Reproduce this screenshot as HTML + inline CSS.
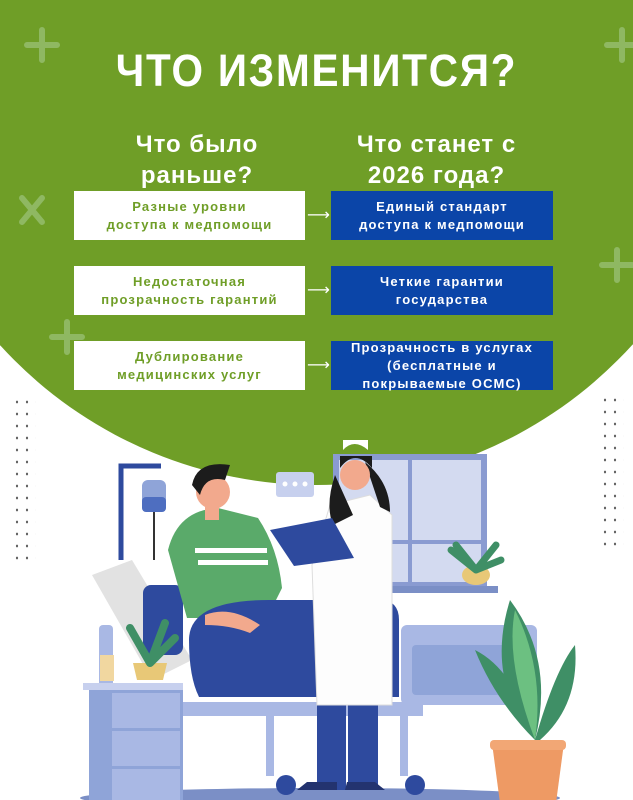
<!DOCTYPE html>
<html><head><meta charset="utf-8"><style>
body{margin:0;width:633px;height:800px;overflow:hidden;background:#fff;position:relative;font-family:"Liberation Sans","DejaVu Sans",sans-serif}
.abs{position:absolute}
.t{left:0;width:633px;top:45px;text-align:center;color:#fff;font-weight:bold;font-size:45px;letter-spacing:2px;transform:scaleX(0.9);line-height:52px}
.h{color:#fff;font-weight:bold;font-size:24px;line-height:31px;text-align:center;letter-spacing:1px}
.b{display:flex;align-items:center;justify-content:center;text-align:center;font-weight:bold;font-size:13px;line-height:18px;letter-spacing:1.2px}
.w{background:#fff;color:#6f9e27;left:74px;width:231px;height:49px}
.bl{background:#0b45a8;color:#fff;left:331px;width:222px;height:49px}
.ar{left:307px;width:22px;color:#fff;font-size:16px}
</style></head><body>
<svg class="abs" style="left:0;top:0" width="633" height="800">
<circle cx="316" cy="58" r="427" fill="#6f9e27"/>
<g stroke="#8fb862" stroke-width="6" stroke-linecap="round">
<path d="M42 30v30M27 45h30"/><path d="M622 30v30M607 45h30"/>
<path d="M22 198l20 24M42 198l-20 24"/><path d="M617 250v30M602 265h30"/>
<path d="M67 322v30M52 337h30"/></g>
<ellipse cx="320" cy="798" rx="240" ry="10" fill="#7b8fc6"/>
<rect x="333" y="454" width="154" height="134" fill="#8a9bd1"/>
<rect x="339" y="460" width="142" height="122" fill="#d3daf0"/>
<rect x="408" y="460" width="4" height="122" fill="#8a9bd1"/>
<rect x="339" y="540" width="142" height="4" fill="#8a9bd1"/>
<rect x="383" y="586" width="115" height="7" fill="#7b8fc6"/>
<ellipse cx="476" cy="575" rx="14" ry="10" fill="#e8c877"/>
<path d="M476 570l-25-20M476 570l20-25M476 570l25-10M476 570l-20-25" stroke="#3f8f66" stroke-width="7" stroke-linecap="round"/>
<path d="M121 560V466h40" stroke="#2e4a9e" stroke-width="5" fill="none"/>
<rect x="142" y="480" width="24" height="32" rx="6" fill="#8fa4d8"/>
<rect x="142" y="497" width="24" height="15" rx="4" fill="#4e6ec0"/>
<path d="M154 512v48" stroke="#333" stroke-width="2"/>
<rect x="276" y="472" width="38" height="25" rx="3" fill="#c7d0ee"/>
<g fill="#fff"><circle cx="285" cy="484" r="2.5"/><circle cx="295" cy="484" r="2.5"/><circle cx="305" cy="484" r="2.5"/></g>
<path d="M92 575l40 -15 60 100 -40 20z" fill="#e2e2e2"/>
<rect x="99" y="625" width="14" height="80" rx="4" fill="#a9b8e4"/>
<rect x="401" y="625" width="136" height="80" rx="6" fill="#a9b8e4"/>
<rect x="412" y="645" width="110" height="50" rx="4" fill="#8fa4d8"/>
<rect x="183" y="702" width="240" height="14" fill="#a9b8e4"/>
<rect x="266" y="716" width="8" height="60" fill="#a9b8e4"/><rect x="400" y="706" width="8" height="70" fill="#a9b8e4"/>
<circle cx="286" cy="785" r="10" fill="#2e4a9e"/><circle cx="415" cy="785" r="10" fill="#2e4a9e"/>
<rect x="143" y="585" width="40" height="70" rx="8" fill="#2e4a9e"/>
<path d="M168 550q10-40 50-42l40 10q20 30 24 70l-15 30h-80z" fill="#5aaa6a"/>
<rect x="195" y="548" width="72" height="5" fill="#fff"/><rect x="198" y="560" width="70" height="5" fill="#fff"/>
<path d="M189 640q0-40 80-40h110q20 0 20 20v77h-200q-10-20-10-57z" fill="#2e4a9e"/>
<circle cx="213" cy="492" r="17" fill="#f2a98d"/>
<path d="M192 485q5-25 38-20l-5 15q-20 -5 -25 15z" fill="#1c1c1c"/>
<rect x="205" y="505" width="14" height="15" fill="#f2a98d"/>
<path d="M205 615q25-10 55 10l-10 8q-20-8-45-8z" fill="#f2a98d"/>
<rect x="83" y="683" width="100" height="7" fill="#c7d0ee"/>
<rect x="89" y="690" width="94" height="116" fill="#8fa4d8"/>
<rect x="112" y="693" width="68" height="35" fill="#a9b8e4"/><rect x="112" y="731" width="68" height="35" fill="#a9b8e4"/><rect x="112" y="769" width="68" height="35" fill="#a9b8e4"/>
<path d="M133 663h34l-4 17h-26z" fill="#e8c877"/>
<path d="M150 663l-20-35M150 663l15-40M150 663l25-25" stroke="#3f8f66" stroke-width="8" stroke-linecap="round"/>
<rect x="100" y="655" width="14" height="26" fill="#f1d7a0"/>
<rect x="317" y="700" width="29" height="90" fill="#2e4a9e"/><rect x="348" y="700" width="30" height="90" fill="#2e4a9e"/>
<path d="M297 790h40v-8h-30zM345 790h40l-10-8h-28z" fill="#23336f"/>
<path d="M330 505l40-10 22 20 0 190h-75l-5-140z" fill="#fdfdfd" stroke="#ddd"/>
<path d="M335 475q-10 30-2 50l20-10zM365 462q25 20 25 50l-10-5z" fill="#1c1c1c"/>
<circle cx="355" cy="475" r="15" fill="#f2a98d"/>
<path d="M340 468q15-20 32 0v-12h-32z" fill="#1c1c1c"/>
<path d="M343 450q11-12 25 0v-10h-25z" fill="#fff"/>
<path d="M270 530l62-12 22 40-60 8z" fill="#2e4a9e"/>
<path d="M535 740q-50-60-25-140q45 60 25 140zM535 740q20-70 40-95q5 60-35 95zM535 740q-40-40-60-90q40 20 60 90z" fill="#3f8f66"/>
<path d="M535 740q-30-80-20-130q30 60 20 130z" fill="#6cc081"/>
<path d="M492 743h72l-8 60h-56z" fill="#ee9a64"/><rect x="490" y="740" width="76" height="10" rx="4" fill="#f2a775"/>
</svg>
<div class="abs t">ЧТО ИЗМЕНИТСЯ?</div>
<div class="abs h" style="left:74px;width:246px;top:129px">Что было<br>раньше?</div>
<div class="abs h" style="left:320px;width:233px;top:129px">Что станет с<br>2026 года?</div>
<div class="abs b w" style="top:191px">Разные уровни<br>доступа к медпомощи</div>
<div class="abs b w" style="top:266px">Недостаточная<br>прозрачность гарантий</div>
<div class="abs b w" style="top:341px">Дублирование<br>медицинских услуг</div>
<div class="abs b bl" style="top:191px">Единый стандарт<br>доступа к медпомощи</div>
<div class="abs b bl" style="top:266px">Четкие гарантии<br>государства</div>
<div class="abs b bl" style="top:341px">Прозрачность в услугах<br>(бесплатные и<br>покрываемые ОСМС)</div>
<div class="abs ar" style="top:205px">⟶</div>
<div class="abs ar" style="top:280px">⟶</div>
<div class="abs ar" style="top:355px">⟶</div>
<div class="abs" style="left:12px;top:396px;width:24px;height:165px;background-image:radial-gradient(#666 1px,transparent 1.3px);background-size:10px 12px"></div>
<div class="abs" style="left:600px;top:394px;width:24px;height:152px;background-image:radial-gradient(#666 1px,transparent 1.3px);background-size:10px 12px"></div>
</body></html>
